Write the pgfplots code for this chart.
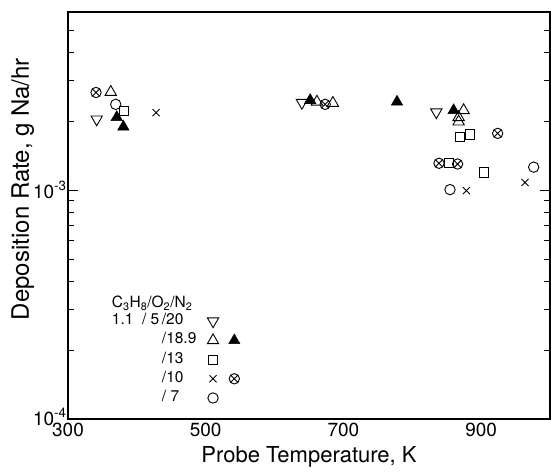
\documentclass[border=0pt]{standalone}
\usepackage{fontspec}
\setmainfont{TeX Gyre Heros}
\usepackage{pgfplots}
\pgfplotsset{compat=1.18}
\usetikzlibrary{plotmarks}
\begin{document}
\begin{tikzpicture}
\begin{axis}[
  scale only axis, width=482bp, height=407bp,
  xmin=300, xmax=1000, ymode=log, ymin=1e-4, ymax=6e-3,
  xtick={300,500,700,900}, minor xtick={300,400,...,1000},
  xtick style={draw=none},
  ytick={1e-4,1e-3},
  yticklabels={\raisebox{4bp}{10\textsuperscript{-4}},10\textsuperscript{-3}},
  minor ytick={2e-4,3e-4,4e-4,5e-4,6e-4,7e-4,8e-4,9e-4,2e-3,3e-3,4e-3,5e-3},
  tick align=inside, tick pos=both,
  major tick length=10bp, minor tick length=6.5bp,
  every tick/.style={black, line width=1bp},
  axis line style={line width=1.1bp},
  /pgf/number format/assume math mode=true,
  /pgf/number format/1000 sep={},
  tick label style={font=\fontsize{19bp}{22bp}\selectfont},
  yticklabel style={xshift=2bp},
  xlabel={Probe Temperature, K},
  ylabel={Deposition Rate, g Na/hr},
  xlabel style={font=\fontsize{22bp}{26bp}\selectfont, yshift=-3bp},
  ylabel style={font=\fontsize{24bp}{28bp}\selectfont, at={(ticklabel cs:0.565)}, yshift=-8bp},
  legend columns=2, legend plot pos=right, legend cell align=left,
  legend image code/.code={\draw[#1] plot coordinates {(0bp,0bp)};},
  legend style={draw=none, fill=none, inner sep=0pt,
    at={(axis cs:434.7,2.92e-4)}, anchor=north west,
    font=\fontsize{15.5bp}{18bp}\selectfont,
    column sep=4bp, row sep=2.2bp,
    nodes={inner sep=1bp, text height=11bp, text depth=4bp}},
]
\coordinate (SW) at (rel axis cs:0,0);
\coordinate (NE) at (rel axis cs:1,1);
% 1.1/5/20  (open down triangle)
\addplot[forget plot, only marks, black, mark=triangle, mark size=6.5bp,
  mark options={rotate=180, line width=0.9bp, fill=none}] coordinates {
 (341.7,2.04e-3) (639.7,2.41e-3) (834.9,2.19e-3)};
% /18.9 open triangle
\addplot[forget plot, only marks, black, mark=triangle, mark size=6.6bp,
  mark options={line width=0.9bp, fill=none}] coordinates {
 (362.1,2.68e-3) (661.5,2.43e-3) (684.7,2.40e-3) (874.6,2.23e-3) (867.3,2.08e-3) (867.3,1.99e-3)};
% /18.9 filled triangle
\addplot[forget plot, only marks, black, mark=triangle*, mark size=6.5bp,
  mark options={line width=0.6bp, fill=black}] coordinates {
 (370.8,2.08e-3) (380.4,1.89e-3) (651.7,2.47e-3) (777.8,2.43e-3) (860,2.23e-3)};
% /13 square
\addplot[forget plot, only marks, black, mark=square, mark size=4.6bp,
  mark options={line width=0.9bp}] coordinates {
 (381.8,2.22e-3) (868.8,1.71e-3) (884.3,1.75e-3) (852.8,1.31e-3) (903.6,1.195e-3)};
% /10 cross
\addplot[forget plot, only marks, black, mark=x, mark size=5bp,
  mark options={line width=0.9bp}] coordinates {
 (427.9,2.18e-3) (878.5,0.995e-3) (963.8,1.08e-3)};
% /10 otimes
\addplot[forget plot, only marks, black, mark=otimes, mark size=5.2bp,
  mark options={line width=0.9bp}] coordinates {
 (340.7,2.67e-3) (673.5,2.37e-3) (924,1.77e-3) (838.8,1.31e-3) (865.8,1.30e-3)};
% /7 circle
\addplot[forget plot, only marks, black, mark=o, mark size=5.2bp,
  mark options={line width=0.9bp}] coordinates {
 (369.3,2.37e-3) (976.3,1.26e-3) (854.8,1.005e-3)};

\addlegendimage{only marks, black, mark=triangle, mark size=6.5bp, mark options={rotate=180, line width=0.9bp}}
\addlegendentry{\llap{1.1\ \ / 5\,}/20}
\addlegendimage{empty legend}\addlegendentry{}
\addlegendimage{only marks, black, mark=triangle, mark size=6.5bp, mark options={line width=0.9bp}}
\addlegendentry{/18.9\hspace*{6bp}}
\addlegendimage{only marks, black, mark=triangle*, mark size=6.5bp, mark options={fill=black}}
\addlegendentry{}
\addlegendimage{only marks, black, mark=square, mark size=4.6bp, mark options={line width=0.9bp}}
\addlegendentry{/13}
\addlegendimage{empty legend}\addlegendentry{}
\addlegendimage{only marks, black, mark=x, mark size=5bp, mark options={line width=0.9bp}}
\addlegendentry{/10}
\addlegendimage{only marks, black, mark=otimes, mark size=5.2bp, mark options={line width=0.9bp}}
\addlegendentry{}
\addlegendimage{only marks, black, mark=o, mark size=5.2bp, mark options={line width=0.9bp}}
\addlegendentry{/ 7}
\addlegendimage{empty legend}\addlegendentry{}

\node[anchor=west, font=\fontsize{15.5bp}{18bp}\selectfont, inner sep=0pt] at (axis cs:363.5,3.2e-4)
  {C\textsubscript{3}H\textsubscript{8}/O\textsubscript{2}/N\textsubscript{2}};
\end{axis}
\pgfresetboundingbox
\path[use as bounding box] ([xshift=-68bp,yshift=-53bp]SW) rectangle ([xshift=1bp,yshift=12bp]NE);
\end{tikzpicture}
\end{document}
